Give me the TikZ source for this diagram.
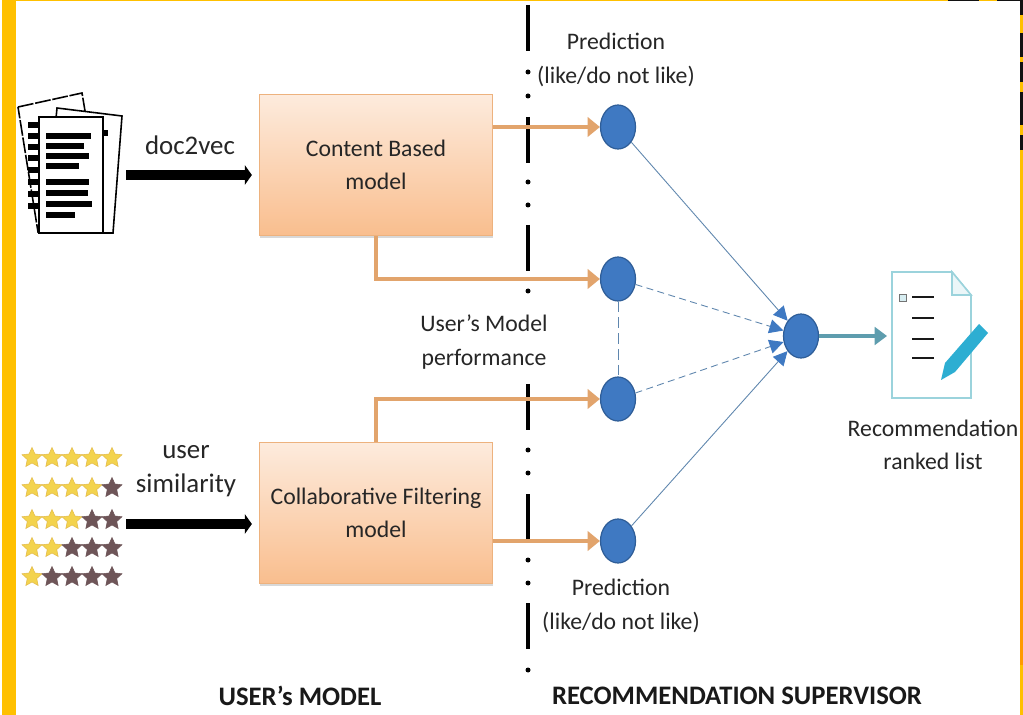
\documentclass[tikz,border=0pt]{standalone}
\usepackage{fontspec}
\setmainfont{Carlito}
\usetikzlibrary{arrows.meta,shapes.geometric,shadows}
\definecolor{bandyellow}{HTML}{FFC000}
\definecolor{bandorange}{HTML}{FF9A00}
\definecolor{boxedge}{HTML}{EDB27E}
\definecolor{boxtop}{HTML}{FDEBDD}
\definecolor{boxbottom}{HTML}{F9BE8E}
\definecolor{linkorange}{HTML}{E2A46C}
\definecolor{dotblue}{HTML}{3F79C2}
\definecolor{dotedge}{HTML}{2F5E98}
\definecolor{thinblue}{HTML}{5F86AE}
\definecolor{linkteal}{HTML}{5E9DAE}
\definecolor{sheetteal}{HTML}{9BD3DC}
\definecolor{penblue}{HTML}{2DAED2}
\definecolor{stargold}{HTML}{F3D34E}
\definecolor{stardark}{HTML}{6E5558}
\tikzset{
  x=0.02cm,y=-0.02cm,
  modelbox/.style={draw=boxedge,line width=0.7pt,top color=boxtop,bottom color=boxbottom,minimum width=4.66cm,minimum height=2.82cm,align=center,font=\fontsize{13.5}{19}\selectfont,text=black!85,drop shadow={shadow xshift=0.3pt,shadow yshift=-1.5pt,opacity=0.3}},
  preddot/.style={ellipse,draw=dotedge,line width=0.7pt,fill=dotblue,minimum width=0.7cm,minimum height=0.88cm,inner sep=0pt},
  txt/.style={align=center,font=\fontsize{13.5}{19}\selectfont,text=black!85},
  bigtxt/.style={align=center,font=\fontsize{15.3}{19}\selectfont,text=black!85},
  heading/.style={font=\fontsize{15.2}{17}\selectfont\bfseries,text=black!90},
  orangelink/.style={draw=linkorange,line width=2.8pt,-{Triangle[length=7pt,width=11pt]}},
  blacklink/.style={draw=black,line width=5.4pt,shorten >=4pt,-{Triangle[length=4pt,width=11pt]}},
  thinlink/.style={draw=thinblue,line width=0.5pt,-{Triangle[length=8pt,width=8pt,color=dotblue,fill=dotblue]}},
  thindash/.style={thinlink,dash pattern=on 4pt off 2.5pt},
  sheet/.style={draw=black,line width=0.9pt,fill=white},
  bar/.style={draw=black,line width=3.2pt},
  goldstar/.style={star,star points=5,star point ratio=2.1,fill=stargold,draw=stargold!70!brown,line width=0.3pt,minimum size=0.42cm,inner sep=0pt},
  darkstar/.style={goldstar,fill=stardark,draw=stardark},
}
\begin{document}
\begin{tikzpicture}
        \useasboundingbox (0,0) rectangle (1023,715);
        % page frame
        \fill[white] (0,0) rectangle (1023,715);
        \fill[bandyellow] (2,0) rectangle (16,715);
        \fill[bandyellow] (16,0) rectangle (948,1);
        \fill[black!93] (948,0) rectangle (979,1);
        \fill[bandyellow] (979,0) rectangle (997,1);
        \fill[black!93] (997,0) rectangle (1023,1);
        \fill[bandyellow] (1020,0) rectangle (1023,300);
        \fill[bandorange] (1020,300) rectangle (1023,665);
        \fill[bandyellow] (1020,665) rectangle (1023,715);
        \foreach \ya/\yb in {0/15,33/57,62/82,92/125,135/150}
          \fill[black!93] (1020,\ya) rectangle (1023,\yb);
        % separator
        \foreach \ystart in {5,117,225,384,494,603}
          \draw[black,line width=2.4pt] (528,\ystart)--(528,\ystart+46);
        \foreach \ydot in {72,96,182,205,291,450,473,560,583,670}
          \fill[black] (528,\ydot) circle[radius=2.5];
        % boxes
        \draw (376,165)node[modelbox](content){Content Based\\model};
        \draw (376,513)node[modelbox](collab){Collaborative Filtering\\model};
        % dots
        \draw (618,127)node[preddot](predA){};
        \draw (618,279)node[preddot](predB){};
        \draw (618,399)node[preddot](predC){};
        \draw (618,541)node[preddot](predD){};
        \draw (801,336)node[preddot](merge){};
        % documents
        \draw[sheet,dash pattern=on 9pt off 1pt] (18,107)--(82,93)--(105,230)--(38,232)--cycle;
        \foreach \ybar in {125,136,147,158,170,182,194,206}
          \draw[bar] (28,\ybar)--(45,\ybar);
        \draw[sheet] (57,108)--(122,116)--(113,233)--(45,233)--cycle;
        \draw[bar] (100,133)--(108,133);
        \draw[sheet] (39,117) rectangle (103,233);
        \foreach \ybar/\xend in {136/91,146/84,156/89,166/79,182/89,193/88,204/92,215/75}
          \draw[bar] (46,\ybar)--(\xend,\ybar);
        \draw (190,145)node[bigtxt](docvec){doc2vec};
        \coordinate (docs) at (126,175);
        \draw[blacklink] (docs)--(content.west|-docs);
        % stars
        \foreach \yrow/\ngold [count=\r] in {458/5,488/4,520/3,548/2,577/1}
          \foreach \xcol [count=\c] in {32,52,72,92,112}{
            \ifnum\c>\ngold
              \draw (\xcol,\yrow)node[darkstar](star\r\c){};
            \else
              \draw (\xcol,\yrow)node[goldstar](star\r\c){};
            \fi
          }
        \draw (186,471)node[bigtxt](simil){user\\similarity};
        \coordinate (stars) at (126,524);
        \draw[blacklink] (stars)--(collab.west|-stars);
        % links to the dots
        \draw[orangelink] (content.east|-predA)--(predA);
        \draw[orangelink] (content.south)--(content.south|-predB)--(predB);
        \draw[orangelink] (collab.north)--(collab.north|-predC)--(predC);
        \draw[orangelink] (collab.east|-predD)--(predD);
        \draw[thinlink] (predA)--(merge);
        \draw[thindash] (predB)--(merge);
        \draw[thindash] (predC)--(merge);
        \draw[thinlink] (predD)--(merge);
        \draw[draw=thinblue,line width=0.5pt,dash pattern=on 6pt off 3pt] (predB)--(predC);
        % ranked list
        \draw[draw=sheetteal,line width=0.9pt,fill=white] (892,272)--(952,272)--(971,295)--(971,398)--(892,398)--cycle;
        \draw[draw=sheetteal,line width=0.9pt,fill=sheetteal!20] (952,272)--(952,295)--(971,295)--cycle;
        \draw[draw=black!55,fill=sheetteal!40,line width=0.5pt] (899,294) rectangle (906,301);
        \foreach \yline in {297,318,339,358}
          \draw[black!90,line width=1.2pt] (912,\yline)--(934,\yline);
        \fill[penblue] (941,380)--(945,363)--(979,324)--(988,333)--(955,372)--cycle;
        \coordinate (listin) at (887,336);
        \draw[draw=linkteal,line width=2.8pt,-{Triangle[length=7pt,width=10pt]}] (merge)--(listin);
        % labels
        \draw (616,60)node[txt](predtop){Prediction\\(like/do not like)};
        \draw (621,606)node[txt](predbot){Prediction\\(like/do not like)};
        \draw (484,342)node[txt](perf){User's Model\\performance};
        \draw (933,445)node[txt](ranked){Recommendation\\ranked list};
        \draw (300,696)node[heading](usermodel){USER's MODEL};
        \draw (737,696)node[heading](supervisor){RECOMMENDATION SUPERVISOR};
      \end{tikzpicture}
\end{document}
